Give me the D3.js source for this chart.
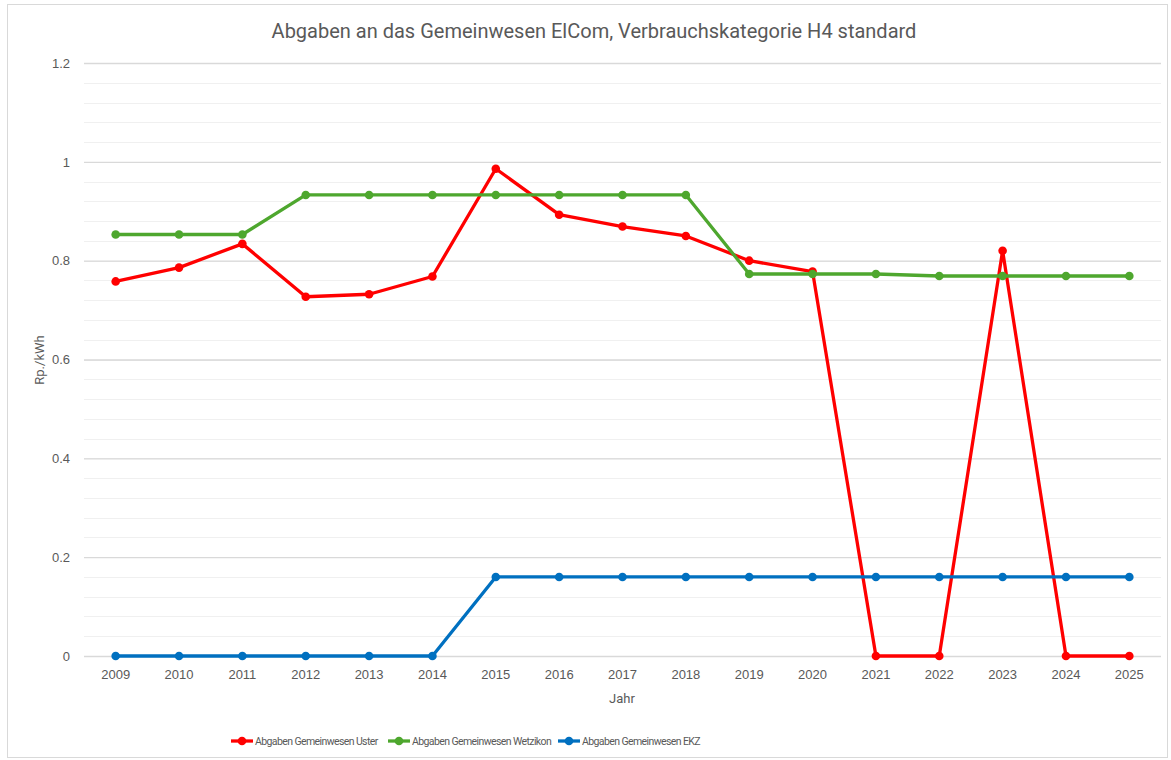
<!DOCTYPE html>
<html>
<head>
<meta charset="utf-8">
<script src="https://cdn.jsdelivr.net/npm/d3@7"></script>
<style>
  body { margin: 0; background: #fff; }
  svg { font-family: Roboto, "Open Sans", sans-serif; }
</style>
</head>
<body>
<div id="chart"></div>
<script>
// categories
const years = ['2009', '2010', '2011', '2012', '2013', '2014', '2015', '2016', '2017',
  '2018', '2019', '2020', '2021', '2022', '2023', '2024', '2025'];

// series values (Rp./kWh)
const uster = [0.758, 0.786, 0.834, 0.727, 0.732, 0.768, 0.986, 0.893, 0.869,
  0.850, 0.800, 0.778, 0, 0, 0.820, 0, 0];
const wetzikon = [0.853, 0.853, 0.853, 0.933, 0.933, 0.933, 0.933, 0.933, 0.933,
  0.933, 0.773, 0.773, 0.773, 0.769, 0.769, 0.769, 0.769];
const ekz = [0, 0, 0, 0, 0, 0, 0.16, 0.16, 0.16, 0.16, 0.16, 0.16, 0.16, 0.16, 0.16, 0.16, 0.16];

const seriesNames = ['Abgaben Gemeinwesen Uster', 'Abgaben Gemeinwesen Wetzikon', 'Abgaben Gemeinwesen EKZ'];
const seriesColors = ['#ff0000', '#4ea72e', '#0070c0'];
const yTicks = [0, 0.2, 0.4, 0.6, 0.8, 1, 1.2];

const series = [uster, wetzikon, ekz];

const width = 1171;
const height = 760;
const margin = { top: 63, right: 10, bottom: 104, left: 84 };

const svg = d3.select('#chart').append('svg')
  .attr('width', width)
  .attr('height', height);

// chart frame
svg.append('rect')
  .attr('x', 7.5).attr('y', 4.5)
  .attr('width', 1160).attr('height', 753)
  .attr('fill', '#fff')
  .attr('stroke', '#d9d9d9');

const x = d3.scaleBand()
  .domain(years)
  .range([margin.left, width - margin.right]);

const y = d3.scaleLinear()
  .domain([0, 1.2])
  .range([height - margin.bottom, margin.top]);

// minor gridlines
svg.append('g')
  .selectAll('line')
  .data(d3.range(0, 1.2001, 0.04))
  .join('line')
  .attr('x1', margin.left).attr('x2', width - margin.right)
  .attr('y1', (d) => Math.round(y(d)) + 0.5).attr('y2', (d) => Math.round(y(d)) + 0.5)
  .attr('stroke', '#f0f0f0')
  .attr('stroke-width', 1);

// major gridlines + y labels
const yAxis = svg.append('g')
  .attr('transform', `translate(${margin.left},0)`)
  .call(d3.axisLeft(y).tickValues(yTicks).tickSize(-(width - margin.right - margin.left))
    .tickPadding(14).tickFormat((d) => String(d)));
yAxis.select('.domain').remove();
yAxis.selectAll('.tick line').attr('stroke', '#d9d9d9').attr('stroke-width', 1.3);
yAxis.selectAll('.tick text').attr('fill', '#595959').style('font-size', '13px');

// x labels
const xAxis = svg.append('g')
  .attr('transform', `translate(0,${height - margin.bottom})`)
  .call(d3.axisBottom(x).tickSize(0).tickPadding(14));
xAxis.select('.domain').remove();
xAxis.selectAll('.tick text').attr('fill', '#595959').style('font-size', '13px');

// lines
const line = d3.line()
  .x((d, i) => x(years[i]) + x.bandwidth() / 2)
  .y((d) => y(d));

series.forEach((vals, k) => {
  svg.append('path')
    .datum(vals)
    .attr('fill', 'none')
    .attr('stroke', seriesColors[k])
    .attr('stroke-width', 3.3)
    .attr('stroke-linejoin', 'round')
    .attr('d', line);
  svg.append('g')
    .selectAll('circle')
    .data(vals)
    .join('circle')
    .attr('cx', (d, i) => x(years[i]) + x.bandwidth() / 2)
    .attr('cy', (d) => y(d))
    .attr('r', 4.3)
    .attr('fill', seriesColors[k]);
});

// title
svg.append('text')
  .attr('x', 594)
  .attr('y', 38)
  .attr('text-anchor', 'middle')
  .attr('fill', '#595959')
  .style('font-size', '20px')
  .text('Abgaben an das Gemeinwesen ElCom, Verbrauchskategorie H4 standard');

// axis titles
svg.append('text')
  .attr('transform', 'translate(44,360) rotate(-90)')
  .attr('text-anchor', 'middle')
  .attr('fill', '#595959')
  .style('font-size', '13px')
  .text('Rp./kWh');

svg.append('text')
  .attr('x', 622)
  .attr('y', 703)
  .attr('text-anchor', 'middle')
  .attr('fill', '#595959')
  .style('font-size', '13px')
  .text('Jahr');

// legend
const legendX = [231, 388, 558];
const legend = svg.append('g');
seriesNames.forEach((name, k) => {
  const g = legend.append('g').attr('transform', `translate(${legendX[k]},741)`);
  g.append('line')
    .attr('x1', 0).attr('x2', 22)
    .attr('stroke', seriesColors[k]).attr('stroke-width', 3.3);
  g.append('circle').attr('cx', 11).attr('r', 4.3).attr('fill', seriesColors[k]);
  g.append('text')
    .attr('x', 24).attr('dy', '0.35em')
    .attr('fill', '#595959')
    .style('font-size', '10.5px')
    .style('letter-spacing', '-0.6px')
    .text(name);
});
</script>
</body>
</html>
